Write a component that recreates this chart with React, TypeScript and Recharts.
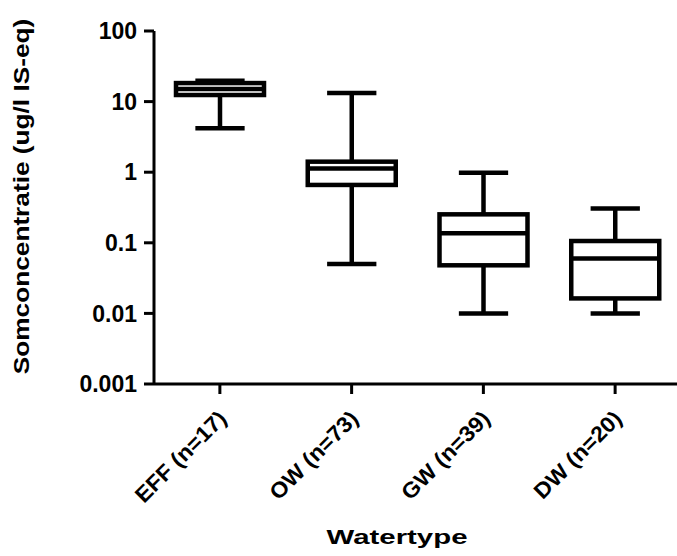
import { ComposedChart, Bar, XAxis, YAxis, Label } from 'recharts';

const categories = ['EFF (n=17)', 'OW (n=73)', 'GW (n=39)', 'DW (n=20)'];
const mins = [4.2, 0.05, 0.01, 0.01];
const q1s = [12.4, 0.66, 0.048, 0.0163];
const medians = [15.1, 1.13, 0.136, 0.06];
const q3s = [18.3, 1.41, 0.253, 0.106];
const maxs = [19.8, 13.2, 0.98, 0.306];
const yTicks = [0.001, 0.01, 0.1, 1, 10, 100];

const data = categories.map((name, i) => ({
  name,
  range: [mins[i], maxs[i]],
  q1: q1s[i],
  median: medians[i],
  q3: q3s[i],
}));

const FONT = '"Liberation Sans", Arial, sans-serif';
const SW = 4.5;

// draws one box from the bar's [min, max] rectangle, using its log mapping
const BoxShape = (props: any) => {
  const { x, y, width, height, payload } = props;
  const [lo, hi] = payload.range;
  const ppd = height / (Math.log10(hi) - Math.log10(lo));
  const py = (v: number) => y + (Math.log10(hi) - Math.log10(v)) * ppd;
  const cx = x + width / 2;
  const cap = width * 0.28;
  const yMax = py(hi);
  const yMin = py(lo);
  const yQ3 = py(payload.q3);
  const yQ1 = py(payload.q1);
  const yMed = py(payload.median);
  return (
    <g stroke="#000" strokeWidth={SW} fill="none">
      <line x1={cx} y1={yMax} x2={cx} y2={yQ3} />
      <line x1={cx} y1={yQ1} x2={cx} y2={yMin} />
      <line x1={cx - cap} y1={yMax} x2={cx + cap} y2={yMax} />
      <line x1={cx - cap} y1={yMin} x2={cx + cap} y2={yMin} />
      <rect x={x} y={yQ3} width={width} height={yQ1 - yQ3} fill="#fff" />
      <line x1={x} y1={yMed} x2={x + width} y2={yMed} />
    </g>
  );
};

const XTick = (props: any) => {
  const { x, y, payload } = props;
  return (
    <g transform={`translate(${x + 8},${y + 24})`}>
      <text
        transform="rotate(-45) scale(1.05,1)"
        textAnchor="end"
        fontFamily={FONT}
        fontWeight="bold"
        fontSize={22}
        fill="#000"
      >
        {payload.value}
      </text>
    </g>
  );
};

export default function App() {
  return (
    <div style={{ position: 'absolute', left: 0, top: 0, width: 677, height: 556, overflow: 'hidden', background: '#fff' }}>
      <ComposedChart
        width={690}
        height={556}
        data={data}
        margin={{ top: 31, right: 9, bottom: 0, left: 0 }}
        barSize={88}
      >
        <XAxis
          dataKey="name"
          height={172}
          interval={0}
          tick={<XTick />}
          tickSize={10}
          tickMargin={2}
          axisLine={{ stroke: '#000', strokeWidth: 3 }}
          tickLine={{ stroke: '#000', strokeWidth: 3 }}
        >
          <Label
            content={(p: any) => (
              <text
                transform={`translate(${p.viewBox.x + 243},${p.viewBox.y + 160}) scale(1.4,1)`}
                textAnchor="middle"
                fontFamily={FONT}
                fontWeight="bold"
                fontSize={21}
                fill="#000"
              >
                Watertype
              </text>
            )}
          />
        </XAxis>
        <YAxis
          type="number"
          scale="log"
          domain={[0.001, 100]}
          ticks={yTicks}
          allowDataOverflow
          width={154}
          tickSize={10}
          tickMargin={7}
          interval={0}
          tick={{ fill: '#000', fontFamily: FONT, fontWeight: 'bold', fontSize: 23 }}
          axisLine={{ stroke: '#000', strokeWidth: 3 }}
          tickLine={{ stroke: '#000', strokeWidth: 3 }}
        >
          <Label
            content={() => (
              <text
                transform="translate(29,196.5) rotate(-90) scale(1.22,1)"
                textAnchor="middle"
                fontFamily={FONT}
                fontWeight="bold"
                fontSize={21.5}
                fill="#000"
              >
                Somconcentratie (ug/l IS-eq)
              </text>
            )}
          />
        </YAxis>
        <Bar dataKey="range" shape={<BoxShape />} isAnimationActive={false} />
      </ComposedChart>
    </div>
  );
}
